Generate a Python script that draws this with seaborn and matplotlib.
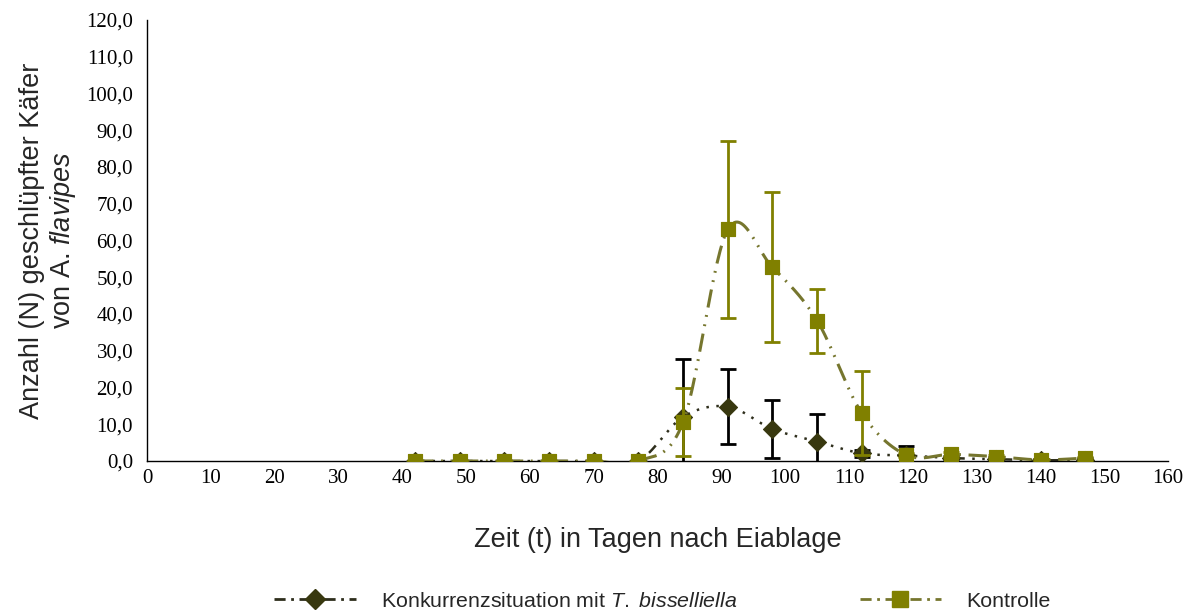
# Schlupfverlauf von A. flavipes: Konkurrenz vs. Kontrolle
import matplotlib
matplotlib.use('Agg')
import matplotlib.pyplot as plt
from matplotlib.lines import Line2D
import pandas as pd
import seaborn as sns
import numpy as np

# data
tage = [42, 49, 56, 63, 70, 77, 84, 91, 98, 105, 112, 119, 126, 133, 140, 147]
konkurrenz = [0, 0, 0, 0, 0, 0, 12.0, 14.8, 8.7, 5.3, 2.1, 1.5, 0.8, 0.5, 0.2, 0.3]
konkurrenz_sd = [0, 0, 0, 0, 0, 0, 15.7, 10.3, 7.8, 7.4, 1.0, 2.7, 0.6, 0.5, 0.3, 0.4]
kontrolle = [0, 0, 0, 0, 0, 0, 10.6, 63.0, 52.7, 38.2, 13.0, 1.6, 1.8, 1.2, 0.3, 0.8]
kontrolle_sd = [0, 0, 0, 0, 0, 0, 9.3, 24.2, 20.4, 8.7, 11.5, 0.5, 0.6, 0.5, 0.3, 0.4]

x_ticks = list(range(0, 161, 10))
y_ticks = list(range(0, 121, 10))

OLIVE = '#808000'
OLIVE_LINE = '#76762e'
DARK = '#38380f'
DARK_LINE = '#2e2e1c'


# excel-like smoothed line (bezier through the points)
def smooth(x, y, n=30):
    x = np.asarray(x, float)
    y = np.asarray(y, float)
    px = np.concatenate([[x[0]], x, [x[-1]]])
    py = np.concatenate([[y[0]], y, [y[-1]]])
    xs, ys = [], []
    t = np.linspace(0, 1, n)
    for i in range(1, len(px) - 2):
        p0 = np.array([px[i], py[i]])
        p3 = np.array([px[i + 1], py[i + 1]])
        p1 = p0 + (np.array([px[i + 1], py[i + 1]]) - np.array([px[i - 1], py[i - 1]])) / 6
        p2 = p3 - (np.array([px[i + 2], py[i + 2]]) - np.array([px[i], py[i]])) / 6
        b = ((1 - t) ** 3)[:, None] * p0 + (3 * (1 - t) ** 2 * t)[:, None] * p1 \
            + (3 * (1 - t) * t ** 2)[:, None] * p2 + (t ** 3)[:, None] * p3
        xs.extend(b[:, 0])
        ys.extend(b[:, 1])
    return pd.DataFrame({'x': xs, 'y': ys})


sns.set_style('white')
plt.rcParams['font.family'] = ['Liberation Sans', 'DejaVu Sans']
plt.rcParams['mathtext.fontset'] = 'custom'
plt.rcParams['mathtext.rm'] = 'Liberation Sans'
plt.rcParams['mathtext.it'] = 'Liberation Sans:italic'

fig = plt.figure(figsize=(11.92, 6.15), dpi=100)
ax = fig.add_axes([0.1233, 0.2504, 0.98 - 0.1233, 0.9675 - 0.2504])

df_k = pd.DataFrame({'Tag': tage, 'N': konkurrenz, 'sd': konkurrenz_sd})
df_c = pd.DataFrame({'Tag': tage, 'N': kontrolle, 'sd': kontrolle_sd})

# Konkurrenz
sk = smooth(tage, konkurrenz)
sns.lineplot(data=sk, x='x', y='y', ax=ax, color=DARK_LINE, lw=1.8,
             sort=False, zorder=2)
ax.lines[-1].set_dashes((4, 3, 1, 3, 1, 3, 1, 3))
ax.errorbar(df_k['Tag'], df_k['N'], yerr=df_k['sd'], fmt='none', ecolor='black',
            elinewidth=2, capsize=5.5, capthick=2, zorder=3)
sns.scatterplot(data=df_k, x='Tag', y='N', ax=ax, marker='D', s=85, color=DARK,
                edgecolor=DARK, zorder=4)

# Kontrolle
sc = smooth(tage, kontrolle)
sns.lineplot(data=sc, x='x', y='y', ax=ax, color=OLIVE_LINE, lw=2.2,
             sort=False, zorder=5)
ax.lines[-1].set_dashes((6, 2.5, 0.6, 2.5, 0.6, 2.5))
ax.errorbar(df_c['Tag'], df_c['N'], yerr=df_c['sd'], fmt='none', ecolor=OLIVE,
            elinewidth=2, capsize=5.5, capthick=2, zorder=6)
sns.scatterplot(data=df_c, x='Tag', y='N', ax=ax, marker='s', s=110, color=OLIVE,
                edgecolor=OLIVE, zorder=7)

ax.set_xlim(0, 160)
ax.set_ylim(0, 120)
ax.set_xticks(x_ticks)
ax.set_yticks(y_ticks)
ax.set_xticklabels([str(v) for v in x_ticks], family='Liberation Serif', fontsize=15)
ax.set_yticklabels([f'{v:.1f}'.replace('.', ',') for v in y_ticks],
                   family='Liberation Serif', fontsize=15)
ax.tick_params(axis='x', direction='inout', length=8, width=1, pad=2, colors='black')
ax.tick_params(axis='y', direction='out', length=5, width=1, pad=5, colors='black')
for s in ['top', 'right']:
    ax.spines[s].set_visible(False)
for s in ['left', 'bottom']:
    ax.spines[s].set_color('black')
    ax.spines[s].set_linewidth(1)

ax.set_xlabel('Zeit (t) in Tagen nach Eiablage', fontsize=19.5, labelpad=28)
ax.set_ylabel('Anzahl (N) geschlüpfter Käfer\nvon A. $\\mathit{flavipes}$',
              fontsize=19.5, labelpad=6, linespacing=1.15)

handles = [
    Line2D([], [], color=DARK_LINE, lw=2, dashes=(4, 2, 1, 2), marker='D',
           markersize=10, markerfacecolor=DARK, markeredgecolor=DARK),
    Line2D([], [], color=OLIVE_LINE, lw=2, dashes=(4, 2, 1, 2), marker='s',
           markersize=11, markerfacecolor=OLIVE, markeredgecolor=OLIVE),
]
labels = ['Konkurrenzsituation mit $\\mathit{T.\\ bisselliella}$', 'Kontrolle']
fig.legend(handles, labels, loc='center', bbox_to_anchor=(0.556, 0.022), ncol=2,
           frameon=False, fontsize=15.4, handlelength=3.8, handletextpad=1.2,
           columnspacing=5.7, borderpad=0)

fig.savefig('out.png', dpi=100, facecolor='white')
